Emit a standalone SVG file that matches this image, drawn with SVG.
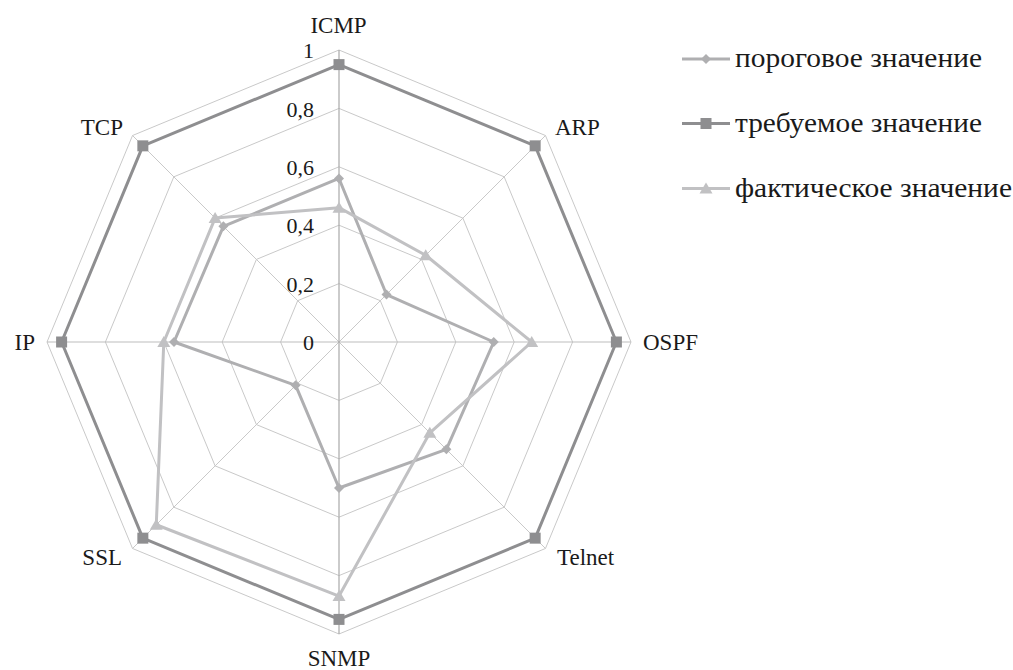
<svg xmlns="http://www.w3.org/2000/svg" width="1013" height="670" viewBox="0 0 1013 670">
<style>
.grid{fill:none;stroke:#c9c9c9;stroke-width:1}
.axis{stroke:#a8a8a8;stroke-width:1.2}
.thr{fill:none;stroke:#afafb1;stroke-width:3;stroke-linejoin:round}
.req{fill:none;stroke:#8e8e90;stroke-width:3;stroke-linejoin:round}
.act{fill:none;stroke:#c1c1c3;stroke-width:3;stroke-linejoin:round}
</style>
<defs>
<path id="dia" d="M0,-5 L5,0 L0,5 L-5,0 Z" fill="#afafb1"/>
<rect id="sq" x="-5.5" y="-5.5" width="11" height="11" fill="#8e8e90"/>
<path id="tri" d="M0,-6 L6.5,5 L-6.5,5 Z" fill="#c1c1c3"/>
</defs>
<g id="grid">
<polygon class="grid" points="339,283.6 380.3,300.7 397.4,342 380.3,383.3 339,400.4 297.7,383.3 280.6,342 297.7,300.7"/>
<polygon class="grid" points="339,225.2 421.59,259.41 455.8,342 421.59,424.59 339,458.8 256.41,424.59 222.2,342 256.41,259.41"/>
<polygon class="grid" points="339,166.8 462.885,218.115 514.2,342 462.885,465.885 339,517.2 215.115,465.885 163.8,342 215.115,218.115"/>
<polygon class="grid" points="339,108.4 504.18,176.82 572.6,342 504.18,507.18 339,575.6 173.82,507.18 105.4,342 173.82,176.82"/>
<polygon class="grid" points="339,50 545.475,135.525 631,342 545.475,548.475 339,634 132.525,548.475 47,342 132.525,135.525"/>
<line class="grid" x1="339" y1="342" x2="545.475" y2="135.525"/>
<line class="grid" x1="339" y1="342" x2="545.475" y2="548.475"/>
<line class="grid" x1="339" y1="342" x2="132.525" y2="548.475"/>
<line class="grid" x1="339" y1="342" x2="132.525" y2="135.525"/>
<line class="grid" x1="47" y1="342" x2="631" y2="342" style="stroke:#bdbdbd"/>
<line class="axis" x1="339" y1="50" x2="339" y2="634"/>
</g>
<g id="ticks" font-family="Liberation Serif" font-size="22" fill="#1a1a1a" text-anchor="end">
<text x="314" y="58">1</text>
<text x="314" y="117">0,8</text>
<text x="314" y="175">0,6</text>
<text x="314" y="233">0,4</text>
<text x="314" y="292">0,2</text>
<text x="314" y="350">0</text>
</g>
<g id="axis-labels" font-family="Liberation Serif" font-size="23" fill="#1a1a1a">
<text id="lbl-icmp" x="338.5" y="33" text-anchor="middle">ICMP</text>
<text id="lbl-arp" x="555" y="135">ARP</text>
<text id="lbl-ospf" x="643" y="350">OSPF</text>
<text id="lbl-telnet" x="557" y="565">Telnet</text>
<text id="lbl-snmp" x="339" y="666" text-anchor="middle">SNMP</text>
<text id="lbl-ssl" x="122" y="565" text-anchor="end">SSL</text>
<text id="lbl-ip" x="35" y="350" text-anchor="end">IP</text>
<text id="lbl-tcp" x="123" y="135" text-anchor="end">TCP</text>
</g>
<g id="series-threshold">
<polygon class="thr" points="339,178.48 386.49,294.51 493.76,342 446.37,449.37 339,488 295.64,385.36 174.02,342 223.37,226.37"/>
<use href="#dia" x="339" y="178.48"/><use href="#dia" x="386.49" y="294.51"/><use href="#dia" x="493.76" y="342"/><use href="#dia" x="446.37" y="449.37"/>
<use href="#dia" x="339" y="488"/><use href="#dia" x="295.64" y="385.36"/><use href="#dia" x="174.02" y="342"/><use href="#dia" x="223.37" y="226.37"/>
</g>
<g id="series-required">
<polygon class="req" points="339,64.6 535.15,145.85 616.4,342 535.15,538.15 339,619.4 142.85,538.15 61.6,342 142.85,145.85"/>
<use href="#sq" x="339" y="64.6"/><use href="#sq" x="535.15" y="145.85"/><use href="#sq" x="616.4" y="342"/><use href="#sq" x="535.15" y="538.15"/>
<use href="#sq" x="339" y="619.4"/><use href="#sq" x="142.85" y="538.15"/><use href="#sq" x="61.6" y="342"/><use href="#sq" x="142.85" y="145.85"/>
</g>
<g id="series-actual">
<polygon class="act" points="339,207.68 425.72,255.28 531.72,342 429.85,432.85 339,596.04 156.27,524.73 163.8,342 215.115,218.115"/>
<use href="#tri" x="339" y="207.68"/><use href="#tri" x="425.72" y="255.28"/><use href="#tri" x="531.72" y="342"/><use href="#tri" x="429.85" y="432.85"/>
<use href="#tri" x="339" y="596.04"/><use href="#tri" x="156.27" y="524.73"/><use href="#tri" x="163.8" y="342"/><use href="#tri" x="215.115" y="218.115"/>
</g>
<g id="legend" font-family="Liberation Serif" font-size="28" fill="#1a1a1a">
<g id="leg-threshold">
<line x1="682" y1="59" x2="730" y2="59" class="thr"/>
<use href="#dia" x="706" y="59"/>
<text x="735" y="67" textLength="247" lengthAdjust="spacingAndGlyphs">пороговое значение</text>
</g>
<g id="leg-required">
<line x1="682" y1="123.5" x2="730" y2="123.5" class="req"/>
<use href="#sq" x="706" y="123.5"/>
<text x="735" y="131.5" textLength="247" lengthAdjust="spacingAndGlyphs">требуемое значение</text>
</g>
<g id="leg-actual">
<line x1="682" y1="188.5" x2="730" y2="188.5" class="act"/>
<use href="#tri" x="706" y="188.5"/>
<text x="735" y="196.5" textLength="277" lengthAdjust="spacingAndGlyphs">фактическое значение</text>
</g>
</g>
</svg>
